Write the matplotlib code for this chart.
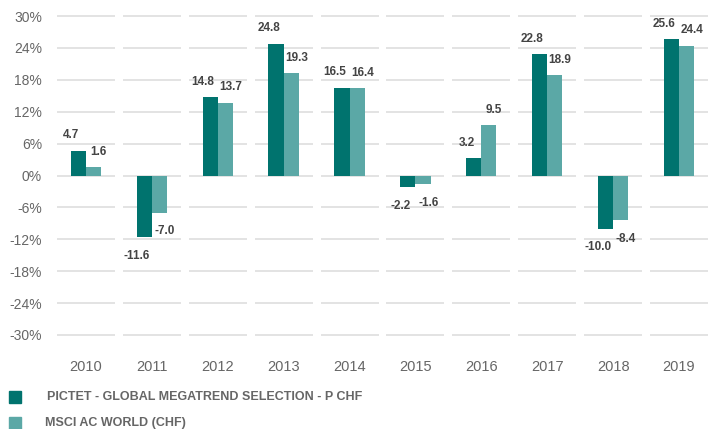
import numpy as np
import matplotlib
matplotlib.use("Agg")
import matplotlib.pyplot as plt

years = ['2010', '2011', '2012', '2013', '2014', '2015', '2016', '2017', '2018', '2019']
pictet = [4.7, -11.6, 14.8, 24.8, 16.5, -2.2, 3.2, 22.8, -10.0, 25.6]
msci = [1.6, -7.0, 13.7, 19.3, 16.4, -1.6, 9.5, 18.9, -8.4, 24.4]
yticks = [-30, -24, -18, -12, -6, 0, 6, 12, 18, 24, 30]
series_names = ['PICTET - GLOBAL MEGATREND SELECTION - P CHF', 'MSCI AC WORLD (CHF)']

dark = '#00736e'
light = '#5ba8a6'
grey = '#666666'
plt.rcParams['font.family'] = ['Liberation Sans', 'DejaVu Sans']

fig = plt.figure(figsize=(7.08, 4.29), dpi=100)
ax = fig.add_axes([53/708, 1-335/429, 1-53/708, (335-16)/429])

x = np.arange(len(years))
w = 0.23

# segmented grid lines, one piece per category
for y in yticks:
    ax.hlines([y]*len(x), x-0.44, x+0.44, color='#e0e0e0', lw=1.3, zorder=0, clip_on=False)

ax.bar(x-w/2, pictet, w, color=dark, zorder=2)
ax.bar(x+w/2, msci, w, color=light, zorder=2)

for i in range(len(x)):
    for val, dx in [(pictet[i], -w/2-0.11), (msci[i], w/2+0.08)]:
        if val >= 0:
            ax.annotate('%.1f' % val, (x[i]+dx, val), xytext=(0, 11), textcoords='offset points',
                        ha='center', va='center', fontsize=8.5, color='#444444', fontweight='bold')
        else:
            ax.annotate('%.1f' % val, (x[i]+dx, val), xytext=(0, -13.5), textcoords='offset points',
                        ha='center', va='center', fontsize=8.5, color='#444444', fontweight='bold')

ax.set_xlim(-0.5, 9.44)
ax.set_ylim(-30, 30)
ax.set_yticks(yticks)
ax.set_yticklabels(['%d%%' % t for t in yticks], fontsize=10, color=grey)
ax.set_xticks(x)
ax.set_xticklabels(years, fontsize=10.5, color=grey)
ax.tick_params(axis='y', length=0, pad=8)
ax.tick_params(axis='x', length=0, pad=18)
for s in ax.spines.values():
    s.set_visible(False)

# legend
for yy, col, name, tx in [(397, dark, series_names[0], 47), (423, light, series_names[1], 45)]:
    fig.patches.append(plt.Rectangle((9/708, 1-(yy+6)/429), 12/708, 12/429, transform=fig.transFigure,
                                     color=col, figure=fig))
    fig.text(tx/708, 1-yy/429, name, fontsize=9, fontweight='bold', color=grey, va='center', ha='left')

fig.savefig('out.png', dpi=100)
